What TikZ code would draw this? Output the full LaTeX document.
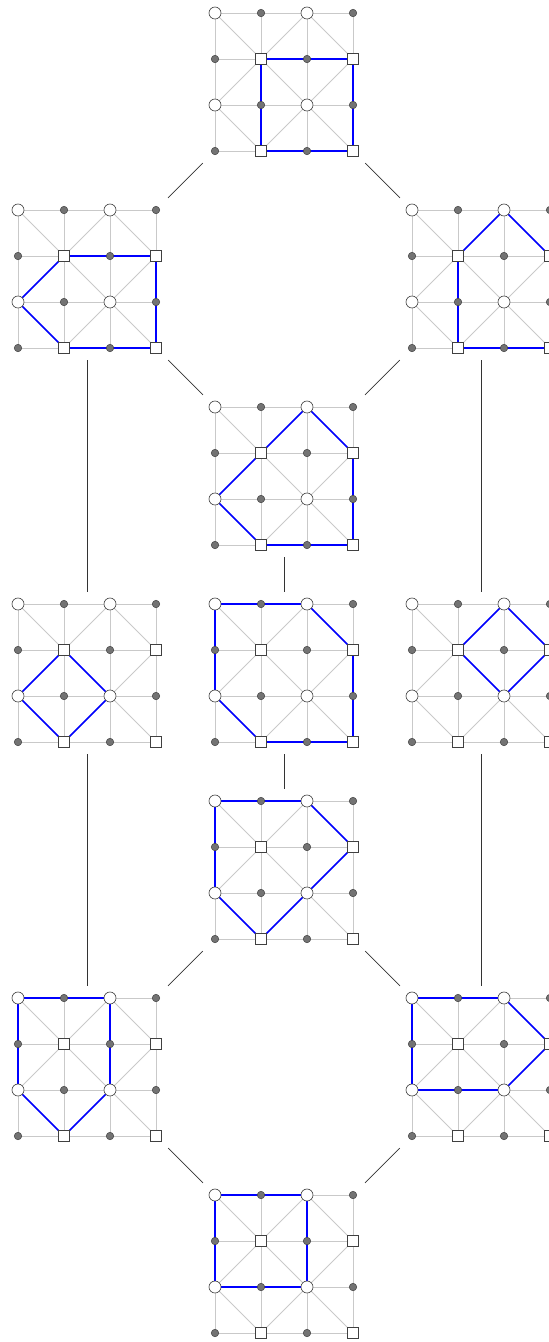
\documentclass[tikz,border=0pt]{standalone}
\begin{document}
\tikzset{
  glin/.style={draw=gray!42, line width=0.75pt},
  blu/.style={draw=blue, line width=1.7pt, line join=round},
  conn/.style={draw=black!80, line width=0.65pt},
  box/.style={rectangle, minimum size=162pt, inner sep=0pt, draw=none},
  cir/.style={circle, draw=black!75, fill=white, minimum size=12pt, inner sep=0pt, line width=0.65pt},
  sq/.style={rectangle, draw=black!75, fill=white, minimum size=10.5pt, inner sep=0pt, line width=0.65pt},
  gdot/.style={circle, draw=black!75, fill=black!55, minimum size=7.5pt, inner sep=0pt, line width=0.5pt},
}
\newcommand\lattice[4]{%
  \begin{scope}[shift={(#2pt,-#3pt)}, x=46pt, y=-46pt]
    \node[box] (#1) at (1.5,1.5) {};
    \foreach \i in {0,...,3} {
      \draw[glin] (\i,0) -- (\i,3);
      \draw[glin] (0,\i) -- (3,\i);
    }
    \foreach \a/\b in {0/0, 2/0, 0/2, 2/2} {
      \draw[glin] (\a,\b) -- (1,1);
    }
    \draw[glin] (2,0) -- (3,1);
    \draw[glin] (2,2) -- (3,1);
    \draw[glin] (0,2) -- (1,3);
    \draw[glin] (2,2) -- (1,3);
    \draw[glin] (2,2) -- (3,3);
    \draw[blu] #4 -- cycle;
    \foreach \c/\r in {0/0, 2/0, 0/2, 2/2} \node[cir] (#1-\c\r) at (\c,\r) {};
    \foreach \c/\r in {1/1, 3/1, 1/3, 3/3} \node[sq] (#1-\c\r) at (\c,\r) {};
    \foreach \c/\r in {1/0, 3/0, 0/1, 2/1, 1/2, 3/2, 0/3, 2/3} \node[gdot] (#1-\c\r) at (\c,\r) {};
  \end{scope}%
}
\begin{tikzpicture}[x=1pt, y=-1pt]
  \useasboundingbox (0,0) rectangle (549,1342);
  \clip (0,0) rectangle (549,1342);
  \lattice{T}{215}{13}{(1,1) -- (3,1) -- (3,3) -- (1,3)}
  \lattice{L2}{18}{210}{(1,1) -- (3,1) -- (3,3) -- (1,3) -- (0,2)}
  \lattice{R2}{412}{210}{(1,1) -- (2,0) -- (3,1) -- (3,3) -- (1,3)}
  \lattice{C3}{215}{407}{(0,2) -- (1,1) -- (2,0) -- (3,1) -- (3,3) -- (1,3)}
  \lattice{L4}{18}{604}{(1,1) -- (2,2) -- (1,3) -- (0,2)}
  \lattice{C4}{215}{604}{(0,0) -- (2,0) -- (3,1) -- (3,3) -- (1,3) -- (0,2)}
  \lattice{R4}{412}{604}{(1,1) -- (2,0) -- (3,1) -- (2,2)}
  \lattice{C5}{215}{801}{(0,0) -- (2,0) -- (3,1) -- (2,2) -- (1,3) -- (0,2)}
  \lattice{L6}{18}{998}{(0,0) -- (2,0) -- (2,2) -- (1,3) -- (0,2)}
  \lattice{R6}{412}{998}{(0,0) -- (2,0) -- (3,1) -- (2,2) -- (0,2)}
  \lattice{B}{215}{1195}{(0,0) -- (2,0) -- (2,2) -- (0,2)}
  \foreach \u/\v in {T/L2, T/R2, L2/C3, R2/C3, L2/L4, R2/R4, C3/C4, C4/C5,
                     L4/L6, R4/R6, C5/L6, C5/R6, L6/B, R6/B}
    \draw[conn] (\u) -- (\v);
\end{tikzpicture}
\end{document}
